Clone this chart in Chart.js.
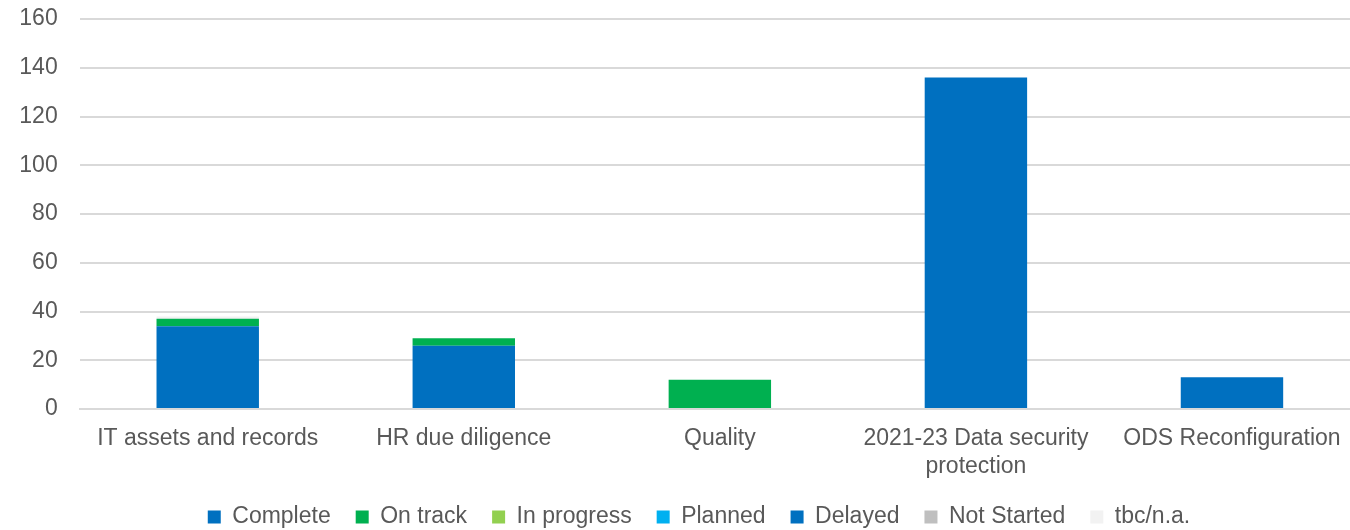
<!DOCTYPE html>
<html>
<head>
<meta charset="utf-8">
<script src="https://cdn.jsdelivr.net/npm/chart.js@4.4.0/dist/chart.umd.min.js"></script>
<style>
  html, body { margin: 0; padding: 0; background: #fff; overflow: hidden; }
  #wrap { width: 1360px; height: 530px; }
</style>
</head>
<body>
<div id="wrap"><canvas id="statusChart"></canvas></div>
<script>
const categories = [
  'IT assets and records',
  'HR due diligence',
  'Quality',
  ['2021-23 Data security', 'protection'],
  'ODS Reconfiguration'
];
const yTicks = [0, 20, 40, 60, 80, 100, 120, 140, 160];

const complete   = [34, 26, 0, 136, 13];
const onTrack    = [3, 3, 12, 0, 0];
const inProgress = [0, 0, 0, 0, 0];
const planned    = [0, 0, 0, 0, 0];
const delayed    = [0, 0, 0, 0, 0];
const notStarted = [0, 0, 0, 0, 0];
const tbc        = [1, 0, 0, 0, 0];

const textColor = '#595959';
const gridColor = '#d9d9d9';

function series(label, data, color) {
  return {
    label: label,
    data: data,
    backgroundColor: color,
    borderWidth: 0,
    categoryPercentage: 1.0,
    barPercentage: 0.4
  };
}

// nudge the legend row a little to the right of the canvas centre
const legendShift = {
  id: 'legendShift',
  afterLayout(chart) {
    chart.legend.left += 19;
    chart.legend.right += 19;
  }
};

Chart.defaults.font.family = '"Liberation Sans", Arial, sans-serif';
Chart.defaults.font.size = 23;
Chart.defaults.color = textColor;

const ctx = document.getElementById('statusChart').getContext('2d');
const statusChart = new Chart(ctx, {
  type: 'bar',
  data: {
    labels: categories,
    datasets: [
      series('Complete', complete, '#0070C0'),
      series('On track', onTrack, '#00B050'),
      series('In progress', inProgress, '#92D050'),
      series('Planned', planned, '#00B0F0'),
      series('Delayed', delayed, '#0070C0'),
      series('Not Started', notStarted, '#BFBFBF'),
      series('tbc/n.a.', tbc, '#F2F2F2')
    ]
  },
  plugins: [legendShift],
  options: {
    responsive: true,
    maintainAspectRatio: false,
    animation: false,
    layout: { padding: { left: 0, right: 0, top: 0, bottom: -8.5 } },
    scales: {
      x: {
        stacked: true,
        grid: { display: false },
        border: { color: gridColor, width: 2 },
        ticks: { color: textColor, padding: 8, maxRotation: 0, autoSkip: false },
        afterFit: scale => { scale.height = 71.5; }
      },
      y: {
        stacked: true,
        min: 0,
        max: 160,
        afterBuildTicks: axis => { axis.ticks = yTicks.map(v => ({ value: v })); },
        grid: { color: gridColor, lineWidth: 2, drawTicks: false },
        border: { display: false },
        ticks: { color: textColor, padding: 22 },
        afterFit: scale => { scale.width = 79.7; scale.paddingTop = 19; }
      }
    },
    plugins: {
      legend: {
        position: 'bottom',
        labels: {
          boxWidth: 13,
          boxHeight: 13,
          padding: 25,
          color: textColor
        }
      },
      tooltip: { enabled: false }
    }
  }
});
</script>
</body>
</html>
